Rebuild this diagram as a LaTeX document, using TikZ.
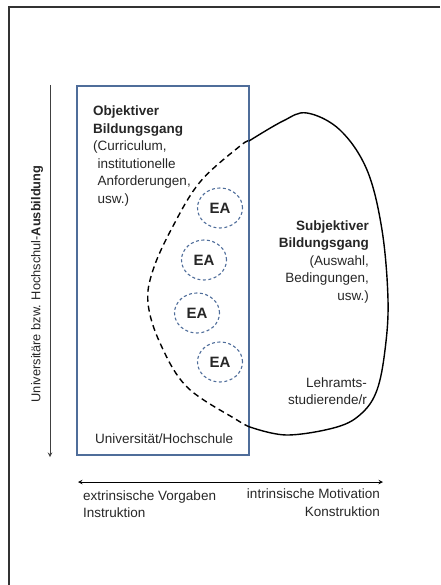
\documentclass[tikz,border=0pt]{standalone}
\usepackage{fontspec}
\setmainfont{Liberation Sans}
\usetikzlibrary{shapes.geometric}
\definecolor{hsblue}{HTML}{4F6D9A}

\begin{document}
\begin{tikzpicture}[x=1pt,y=-1pt,
  every node/.style={inner sep=0pt, text=black!85, font=\fontsize{13.5}{17.5}\selectfont},
  eanode/.style={ellipse, draw=hsblue, line width=1.1pt, dash pattern=on 3pt off 2.5pt, minimum width=45pt, minimum height=40pt, font=\fontsize{15}{15}\selectfont\bfseries}]
\useasboundingbox (0,0) rectangle (440,585);
\draw[line width=1.5pt, black!80] (440,7) -- (9,7) -- (9,585);

% Hochschule
\node[draw=hsblue, line width=1.3pt, minimum width=172pt, minimum height=369pt] (hs) at (163,270.5) {};
\node[anchor=base west, align=left] (obj) at (93,203.5) {\textbf{Objektiver}\\\textbf{Bildungsgang}\\(Curriculum,\\\hphantom{(}institutionelle\\\hphantom{(}Anforderungen,\\\hphantom{(}usw.)};
\node[anchor=base west] (unihs) at (95,443) {Universität/Hochschule};

% Studierende
\draw[line width=1.4pt] plot[smooth, tension=0.6] coordinates {(249,141) (283,121) (307,113) (340,130) (367,170) (382,230) (388,300) (385,350) (377,390) (362,413) (337,427) (287,435) (250,427)};
\draw[line width=1.4pt, dash pattern=on 6pt off 4pt] plot[smooth, tension=0.6] coordinates {(250,427) (237,420) (187,387) (160,343) (148,303) (153,270) (172,228) (200,182) (240,146) (249,141)};
\node[anchor=base east, align=right] (subj) at (369,300) {\textbf{Subjektiver}\\\textbf{Bildungsgang}\\(Auswahl,\\Bedingungen,\\usw.)};
\node[anchor=base east, align=right] (lehr) at (367,404.5) {Lehramts-\\studierende/r};

\node[eanode] (ea1) at (220,208) {EA};
\node[eanode] (ea2) at (204,260) {EA};
\node[eanode] (ea3) at (197,313) {EA};
\node[eanode] (ea4) at (220,362) {EA};

% Achsen
\coordinate (vtop) at (50,85);
\coordinate (vbot) at (50,457);
\draw[line width=1pt, black!75, -{stealth}] (vtop) -- (vbot);
\node[rotate=90, font=\fontsize{12.8}{15}\selectfont] (ausb) at (37,284) {Universitäre bzw. Hochschul-\textbf{Ausbildung}};

\coordinate (hleft) at (78,482);
\coordinate (hright) at (383,482);
\draw[line width=1pt, {stealth}-{stealth}] (hleft) -- (hright);
\node[anchor=base west, align=left] (extr) at (83,517.5) {extrinsische Vorgaben\\Instruktion};
\node[anchor=base east, align=right] (intr) at (380,516) {intrinsische Motivation\\Konstruktion};
\end{tikzpicture}
\end{document}
